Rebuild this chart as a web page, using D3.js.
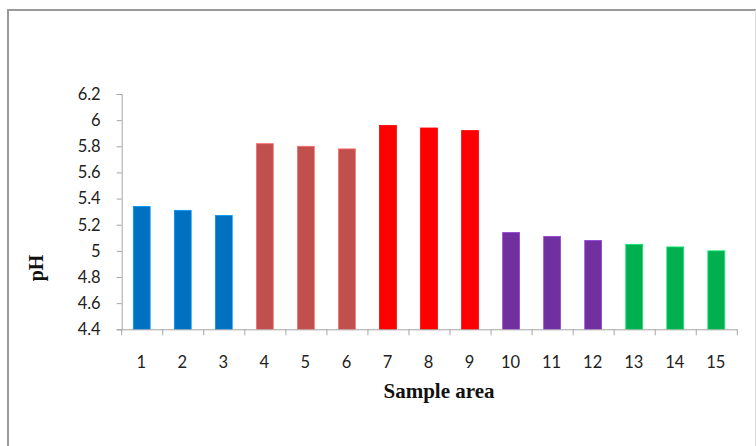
<!DOCTYPE html>
<html>
<head>
<meta charset="utf-8">
<script src="https://cdn.jsdelivr.net/npm/d3@7"></script>
<style>
  html, body { margin: 0; padding: 0; background: #fff; }
  svg { display: block; }
</style>
</head>
<body>
<svg id="chart" width="756" height="446"></svg>
<script>
// Sample areas and their measured pH
const categories = ["1","2","3","4","5","6","7","8","9","10","11","12","13","14","15"];
const phValues = [5.34, 5.31, 5.27, 5.82, 5.80, 5.78, 5.96, 5.94, 5.92, 5.14, 5.11, 5.08, 5.05, 5.03, 5.00];
// Group colour for each sample area
const barColors = ["#0070C0","#0070C0","#0070C0",
                   "#C0504D","#C0504D","#C0504D",
                   "#FF0000","#FF0000","#FF0000",
                   "#7030A0","#7030A0","#7030A0",
                   "#00B050","#00B050","#00B050"];
const yTicks = [4.4, 4.6, 4.8, 5, 5.2, 5.4, 5.6, 5.8, 6, 6.2];

(function draw() {
  const svg = d3.select("#chart");

  // outer chart frame
  svg.append("rect")
    .attr("x", 8).attr("y", 10)
    .attr("width", 754).attr("height", 450)
    .attr("fill", "#fff")
    .attr("stroke", "#9a9a9a").attr("stroke-width", 2);
  svg.append("line")
    .attr("x1", 755.5).attr("x2", 755.5).attr("y1", 10).attr("y2", 446)
    .attr("stroke", "#d9d9d9").attr("stroke-width", 1);

  const plotLeft = 121.7, plotRight = 737.3, plotTop = 94, plotBottom = 329.3;

  const x = d3.scaleBand().domain(categories).range([plotLeft, plotRight]).padding(0);
  const y = d3.scaleLinear().domain([4.4, 6.2]).range([plotBottom, plotTop]);

  const axisColor = "#a6a6a6";
  const tickFont = "Lato, 'Open Sans', sans-serif";
  const tickSize = 16.5;

  // bars
  const barW = x.bandwidth() * 0.41;
  svg.append("g").selectAll("rect")
    .data(phValues)
    .join("rect")
    .attr("x", (d, i) => x(categories[i]) + (x.bandwidth() - barW) / 2 - 0.5)
    .attr("y", d => y(d))
    .attr("width", barW)
    .attr("height", d => y(4.4) - y(d))
    .attr("fill", (d, i) => barColors[i])
    .attr("stroke", (d, i) => d3.color(barColors[i]).brighter(0.8))
    .attr("stroke-width", 0.8);

  // y axis
  const yAxis = svg.append("g")
    .attr("transform", `translate(${plotLeft},0)`)
    .call(d3.axisLeft(y).tickValues(yTicks).tickSize(5).tickPadding(16)
      .tickFormat(d => d3.format("~g")(d)));
  yAxis.select(".domain").attr("stroke", axisColor);
  yAxis.selectAll(".tick line").attr("stroke", axisColor);
  yAxis.selectAll(".tick text")
    .attr("fill", "#222").attr("font-family", tickFont).attr("font-size", tickSize);

  // x axis: ticks on category boundaries, labels centred in each band
  const xAxisG = svg.append("g").attr("transform", `translate(0,${plotBottom})`);
  xAxisG.append("line")
    .attr("x1", plotLeft).attr("x2", plotRight).attr("y1", 0.5).attr("y2", 0.5)
    .attr("stroke", axisColor);
  const bounds = categories.map(c => x(c)).concat([plotRight]);
  xAxisG.selectAll("line.tk")
    .data(bounds)
    .join("line").attr("class", "tk")
    .attr("x1", d => d).attr("x2", d => d)
    .attr("y1", 0).attr("y2", 6)
    .attr("stroke", axisColor);
  xAxisG.selectAll("text")
    .data(categories)
    .join("text")
    .attr("x", d => x(d) + x.bandwidth() / 2 - 1)
    .attr("y", 38.5)
    .attr("text-anchor", "middle")
    .attr("fill", "#222").attr("font-family", tickFont).attr("font-size", tickSize)
    .text(d => d);

  // axis titles
  svg.append("text")
    .attr("x", 439).attr("y", 398)
    .attr("text-anchor", "middle")
    .attr("font-family", "'Liberation Serif', 'Times New Roman', serif")
    .attr("font-weight", "bold").attr("font-size", 21).attr("fill", "#111")
    .text("Sample area");
  svg.append("text")
    .attr("transform", "translate(43,268) rotate(-90)")
    .attr("text-anchor", "middle")
    .attr("font-family", "'Liberation Serif', 'Times New Roman', serif")
    .attr("font-weight", "bold").attr("font-size", 20).attr("fill", "#111")
    .text("pH");
})();
</script>
</body>
</html>
